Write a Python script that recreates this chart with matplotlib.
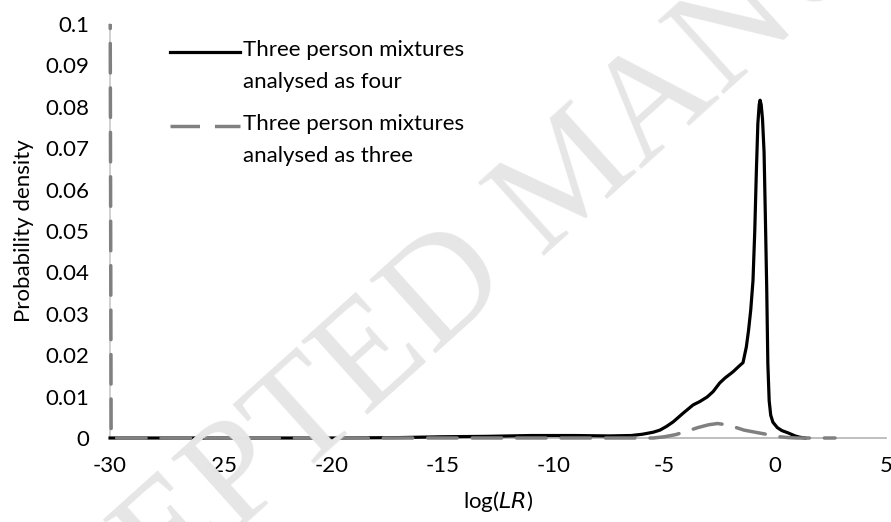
import matplotlib.pyplot as plt
from matplotlib.patches import Rectangle

# log(LR) density curves
x_four = [-30, -20, -17, -15, -13, -11, -9, -7.5, -6.5, -6, -5.5, -5.2, -4.9, -4.6,
          -4.15, -3.7, -3.4, -3.07, -2.8, -2.5, -2.26, -1.9, -1.58, -1.45, -1.3, -1.2,
          -1.1, -1.0, -0.92, -0.85, -0.78, -0.72, -0.68, -0.63, -0.57, -0.5, -0.44,
          -0.38, -0.33, -0.27, -0.2, -0.1, 0.1, 0.3, 0.6, 0.9, 1.1, 1.35]
y_four = [0, 0, 0.0001, 0.0003, 0.0004, 0.0006, 0.0006, 0.0005, 0.0006, 0.0009, 0.0014,
          0.0019, 0.0028, 0.0039, 0.006, 0.008, 0.0088, 0.0099, 0.0112, 0.0133, 0.0145,
          0.016, 0.0176, 0.0182, 0.022, 0.026, 0.031, 0.038, 0.05, 0.064, 0.076, 0.0805,
          0.0816, 0.0805, 0.077, 0.069, 0.053, 0.036, 0.018, 0.009, 0.0055, 0.0038,
          0.0025, 0.0018, 0.0012, 0.0005, 0.0002, 0]

x_three = [-30, -29.95, -20, -10, -5.5, -5, -4.5, -4, -3.5, -3, -2.6, -2.2, -1.8, -1.4,
           -1.0, -0.6, -0.2, 0.2, 0.6, 1.0, 2.7]
y_three = [0.12, 0, 0, 0, 0, 0.0003, 0.0008, 0.0016, 0.0025, 0.0032, 0.0035, 0.0032,
           0.0026, 0.0019, 0.0015, 0.0011, 0.0007, 0.0003, 0.0001, 0, 0]

label_four = "Three person mixtures\nanalysed as four"
label_three = "Three person mixtures\nanalysed as three"

plt.rcParams['font.family'] = ['Lato', 'DejaVu Sans']
plt.rcParams['font.size'] = 16
plt.rcParams['axes.unicode_minus'] = False

fig = plt.figure(figsize=(8.91, 5.22), dpi=100)
ax = fig.add_axes([0.1235, 0.1609, 0.8709, 0.7931])
ax.set_facecolor('none')

fig.text(0.645, 0.655, "ACCEPTED MANUSCRIPT", rotation=42, rotation_mode='anchor',
         ha='center', va='center', fontsize=108, family='Liberation Serif',
         color='#e6e6e6', zorder=0)

# let the lines run over the spines instead of being cut in half
clip = Rectangle((-0.01, -0.01), 1.02, 1.01, transform=ax.transAxes)

l4, = ax.plot(x_four, y_four, color='black', lw=2.3, solid_joinstyle='round', zorder=3)
l3, = ax.plot(x_three, y_three, color='#808080', lw=2.5, dashes=(8.5, 4.3),
              dash_capstyle='round', zorder=4)
l4.set_clip_path(clip)
l3.set_clip_path(clip)

ax.set_xlim(-30, 5)
ax.set_ylim(0, 0.1)
ax.set_xticks(range(-30, 6, 5))
ax.set_yticks([i / 100 for i in range(11)])
ax.set_yticklabels(['0'] + [f'{i / 100:g}' for i in range(1, 11)])

for s in ['top', 'right']:
    ax.spines[s].set_visible(False)
ax.spines['left'].set_color('#c8c8c8')
ax.spines['bottom'].set_color('#b4b4b4')
ax.spines['left'].set_linewidth(1.2)
ax.spines['bottom'].set_linewidth(1.2)
ax.tick_params(axis='both', length=0)
ax.tick_params(axis='y', pad=15)
ax.tick_params(axis='x', pad=13)

ax.set_xlabel('log($\\it{LR}$)', labelpad=9)
ax.set_ylabel('Probability density', labelpad=8)

# legend drawn by hand so the swatch sits on the first text line
ax.plot([0.0773, 0.1675], [0.9324, 0.9324], transform=ax.transAxes,
        color='black', lw=2.3, clip_on=False)
ax.plot([0.0773, 0.1675], [0.7536, 0.7536], transform=ax.transAxes,
        color='#808080', lw=2.5, dashes=(8.5, 4.3), clip_on=False)
ax.text(0.1714, 0.9324 + 0.028, label_four, transform=ax.transAxes,
        va='top', ha='left', linespacing=1.7)
ax.text(0.1714, 0.7536 + 0.028, label_three, transform=ax.transAxes,
        va='top', ha='left', linespacing=1.7)

fig.savefig('out.png', dpi=100, facecolor='white')
